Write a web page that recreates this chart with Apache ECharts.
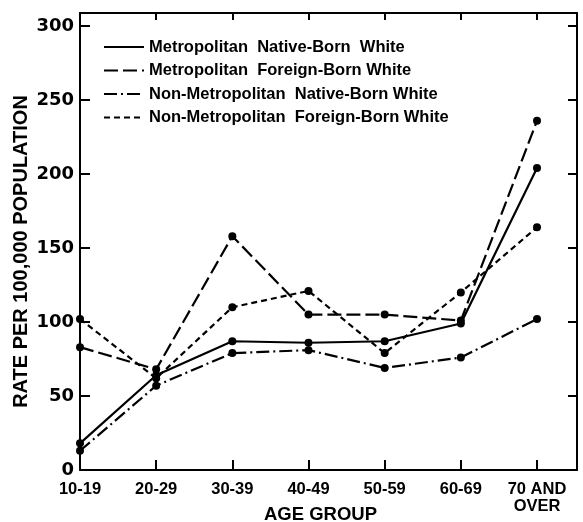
<!DOCTYPE html>
<html>
<head>
<meta charset="utf-8">
<script src="https://cdn.jsdelivr.net/npm/echarts@6/dist/echarts.min.js"></script>
<style>html,body{margin:0;padding:0;background:#fff}#c{width:583px;height:522px}</style>
</head>
<body>
<div id="c"></div>
<script>
var ageGroups = ['10-19', '20-29', '30-39', '40-49', '50-59', '60-69', '70 AND\nOVER'];
var seriesNames = [
  'Metropolitan  Native-Born  White',
  'Metropolitan  Foreign-Born White',
  'Non-Metropolitan  Native-Born White',
  'Non-Metropolitan  Foreign-Born White'
];
var metroNative = [18, 64, 87, 86, 87, 99, 204];
var metroForeign = [83, 68, 158, 105, 105, 101, 236];
var nonMetroNative = [13, 57, 79, 81, 69, 76, 102];
var nonMetroForeign = [102, 62, 110, 121, 79, 120, 164];
var yTicks = [0, 50, 100, 150, 200, 250, 300];

var F = 'DejaVu Sans';
var L = 'Liberation Sans';
function pts(arr) { return arr.map(function (v, i) { return [i, v]; }); }
var dashes = ['solid', [14, 5], [13, 4, 2, 4], [6, 4]];
var allData = [metroNative, metroForeign, nonMetroNative, nonMetroForeign];

var chart = echarts.init(document.getElementById('c'), null, {renderer: 'canvas'});
var XMAX = 6.525, YMAX = 308.8;
chart.setOption({
  animation: false,
  backgroundColor: '#fff',
  grid: {left: 80, right: 6, top: 13, bottom: 52, show: false, containLabel: false, outerBoundsMode: 'none'},
  legend: {
    left: 103, top: 38.5, orient: 'vertical', padding: 0,
    itemWidth: 40, itemHeight: 14, itemGap: 6.5,
    itemStyle: {opacity: 0},
    textStyle: {fontFamily: L, fontWeight: 'bold', fontSize: 16.5, color: '#000', lineHeight: 16},
    data: seriesNames
  },
  xAxis: [{
    type: 'value', min: 0, max: XMAX, interval: 1, position: 'bottom',
    name: 'AGE GROUP', nameLocation: 'middle', nameGap: 35, nameMoveOverlap: false,
    nameTextStyle: {fontFamily: L, fontWeight: 'bold', fontSize: 18.5, color: '#000', padding: [0, 16, 0, 0]},
    axisLine: {show: true, onZero: false, lineStyle: {color: '#000', width: 2}},
    axisTick: {show: true, inside: true, length: 10, lineStyle: {color: '#000', width: 2}},
    splitLine: {show: false},
    axisLabel: {
      margin: 11, fontFamily: L, fontWeight: 'bold', fontSize: 16.5, color: '#000', lineHeight: 17,
      showMaxLabel: true,
      formatter: function (v) { return (Math.abs(v - Math.round(v)) < 1e-6 && ageGroups[Math.round(v)]) ? ageGroups[Math.round(v)] : ''; }
    }
  }, {
    type: 'value', min: 0, max: XMAX, interval: 1, position: 'top',
    axisLine: {show: true, onZero: false, lineStyle: {color: '#000', width: 2}},
    axisTick: {show: true, inside: true, length: 7, lineStyle: {color: '#000', width: 2}},
    axisLabel: {show: false}, splitLine: {show: false}
  }],
  yAxis: [{
    type: 'value', min: 0, max: YMAX, interval: 50, position: 'left',
    name: 'RATE PER 100,000 POPULATION', nameLocation: 'middle', nameGap: 49, nameRotate: 90, nameMoveOverlap: false,
    nameTextStyle: {fontFamily: L, fontWeight: 'bold', fontSize: 20, color: '#000', padding: [0, 20, 0, 0]},
    axisLine: {show: true, onZero: false, lineStyle: {color: '#000', width: 2}},
    axisTick: {show: true, inside: true, length: 10, lineStyle: {color: '#000', width: 2}},
    splitLine: {show: false},
    axisLabel: {
      margin: 6, fontFamily: F, fontWeight: 'bold', fontSize: 18, color: '#000',
      formatter: function (v) { return yTicks.indexOf(v) >= 0 ? String(v) : ''; }
    }
  }, {
    type: 'value', min: 0, max: YMAX, interval: 50, position: 'right',
    axisLine: {show: true, onZero: false, lineStyle: {color: '#000', width: 2}},
    axisTick: {show: true, inside: true, length: 9, lineStyle: {color: '#000', width: 2}},
    axisLabel: {show: false}, splitLine: {show: false}
  }],
  series: allData.map(function (d, i) {
    return {
      name: seriesNames[i], type: 'line', data: pts(d),
      xAxisIndex: 0, yAxisIndex: 0,
      symbol: 'circle', symbolSize: 8, showSymbol: true,
      itemStyle: {color: '#000'},
      lineStyle: {color: '#000', width: 2.2, type: dashes[i]},
      z: 3
    };
  })
});
</script>
</body>
</html>
